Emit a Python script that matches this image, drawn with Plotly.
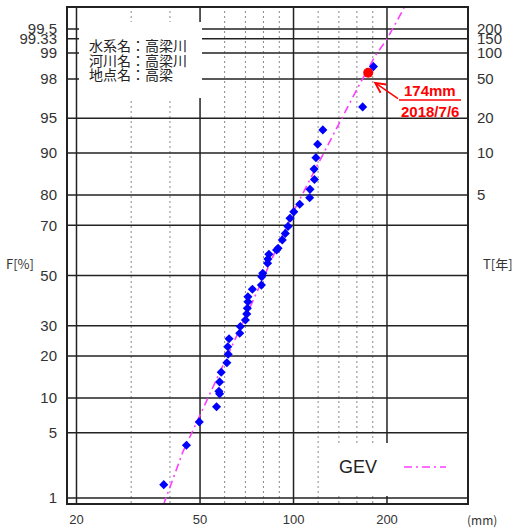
import math
from statistics import NormalDist
import plotly.graph_objects as go

# ---------------- data ----------------
# observed annual maxima (plotting positions) read from the chart
obs_mm = [38.2, 45.2, 49.7, 56.5, 57.8, 57.5, 57.8, 58.5, 61.0, 61.6, 61.4, 62.0,
          67.1, 67.4, 70.0, 70.7, 71.0, 71.3, 71.3, 73.7, 78.8, 79.0, 79.6, 82.5,
          82.7, 83.3, 88.2, 89.2, 92.0, 94.1, 96.0, 97.4, 100.2, 104.7, 112.7,
          113.0, 116.8, 116.5, 118.1, 119.6, 124.3, 167.0, 180.9]
obs_F = [1.44, 3.8, 6.3, 8.5, 10.8, 11.3, 13.3, 15.6, 18.1, 20.5, 22.8, 25.4,
         27.3, 29.7, 32.1, 34.4, 36.6, 39.2, 41.2, 44.3, 46.0, 49.5, 50.9, 55.1,
         56.8, 58.8, 60.5, 61.2, 64.5, 67.0, 69.6, 72.5, 74.7, 77.2, 79.2,
         81.6, 84.2, 86.7, 89.1, 91.5, 93.6, 96.1, 98.55]

# 2018/7/6 event
event_mm = [174.0]
event_F = [98.3]
event_label = ["174mm", "2018/7/6"]

# GEV fitted curve
gev_mm = [38.1, 40.4, 44.0, 48.9, 53.5, 69.3, 79.4, 97.8, 117.6, 139.7, 161.9, 183.1, 199.7, 226.9]
gev_F = [0.82, 1.46, 3.25, 6.35, 10.6, 32.1, 48.1, 72.8, 86.7, 94.3, 97.6, 98.91, 99.32, 99.74]

# axes ticks
F_ticks = [1, 5, 10, 20, 30, 50, 70, 80, 90, 95, 98, 99, 99.333, 99.5]
F_labels = ["1", "5", "10", "20", "30", "50", "70", "80", "90", "95", "98", "99", "99.33", "99.5"]
T_ticks = [5, 10, 20, 50, 100, 150, 200]
T_labels = ["5", "10", "20", "50", "100", "150", "200"]
x_major = [20, 50, 100, 200]
x_major_labels = ["20", "50", "100", "200"]
x_minor = [30, 40, 60, 70, 80, 90, 120, 140, 160, 180]

info_lines = ["水系名：高梁川", "河川名：高梁川", "地点名：高梁"]

# ---------------- figure ----------------
nd = NormalDist()


def zq(p):
    return nd.inv_cdf(p / 100.0)


W, H = 527, 528
ML, MR, MT, MB = 68, 60, 8, 25
PW, PH = W - ML - MR, H - MT - MB


def px(xp):
    return (xp - ML) / PW


def py(yp):
    return (H - MB - yp) / PH


TICKFONT = dict(family="Liberation Sans Narrow, Liberation Sans, Arial, sans-serif", size=15, color="#333")
XTICKFONT = dict(family="Liberation Sans Narrow, Liberation Sans, Arial, sans-serif", size=13, color="#333")
MAGENTA = "#FF3CFF"
DASHDOT = "8px,4px,2px,4px"
y_range = [-2.378, 2.796]

fig = go.Figure()

fig.add_trace(go.Scatter(
    x=gev_mm, y=[zq(f) for f in gev_F], mode="lines",
    line=dict(color=MAGENTA, width=1.6, dash=DASHDOT),
    showlegend=False, hoverinfo="skip"))

fig.add_trace(go.Scatter(
    x=obs_mm, y=[zq(f) for f in obs_F], mode="markers",
    marker=dict(symbol="diamond", size=7, color="#0000FF"),
    showlegend=False))

fig.add_trace(go.Scatter(
    x=event_mm, y=[zq(f) for f in event_F], mode="markers",
    marker=dict(symbol="circle", size=10, color="#FF0000"),
    yaxis="y2", showlegend=False))

fig.update_layout(
    width=W, height=H,
    margin=dict(l=ML, r=MR, t=MT, b=MB, autoexpand=False),
    paper_bgcolor="white", plot_bgcolor="white",
    xaxis=dict(
        type="log", range=[math.log10(18.78), math.log10(362)],
        tickvals=x_major, ticktext=x_major_labels, ticks="",
        tickfont=XTICKFONT, ticklabelstandoff=3, automargin=False,
        showgrid=False,
        showline=True, mirror=True, linecolor="#222", linewidth=2,
        zeroline=False),
    yaxis=dict(
        range=y_range, tickvals=[zq(f) for f in F_ticks], ticktext=F_labels,
        ticks="", tickfont=TICKFONT, ticklabelstandoff=6, automargin=False,
        showgrid=False,
        showline=True, mirror=True, linecolor="#222", linewidth=2,
        zeroline=False),
    yaxis2=dict(
        range=y_range, overlaying="y", side="right",
        tickvals=[zq(100 * (1 - 1 / t)) for t in T_ticks], ticktext=T_labels,
        ticks="", tickfont=TICKFONT, ticklabelstandoff=9, automargin=False,
        showgrid=False, zeroline=False, showline=False),
)

shapes = []
# grid: dotted minor verticals, solid major verticals, solid horizontals
for v in x_minor:
    shapes.append(dict(type="line", xref="x", yref="paper", x0=v, x1=v, y0=0, y1=1,
                       line=dict(color="#888", width=1, dash="2px,3px"), layer="below"))
for v in x_major:
    shapes.append(dict(type="line", xref="x", yref="paper", x0=v, x1=v, y0=0, y1=1,
                       line=dict(color="#222", width=1.5), layer="below"))
for f in F_ticks:
    shapes.append(dict(type="line", xref="paper", yref="y", x0=0, x1=1, y0=zq(f), y1=zq(f),
                       line=dict(color="#222", width=1.5), layer="below"))
# white boxes breaking the grid (info box & legend box)
shapes.append(dict(type="rect", xref="paper", yref="paper",
                   x0=px(79), x1=px(202), y0=py(98), y1=py(22),
                   fillcolor="white", line=dict(width=0), layer="below"))
shapes.append(dict(type="rect", xref="paper", yref="paper",
                   x0=px(330), x1=px(466), y0=py(496), y1=py(443),
                   fillcolor="white", line=dict(width=0), layer="below"))
# legend sample line
shapes.append(dict(type="line", xref="paper", yref="paper",
                   x0=px(404), x1=px(446), y0=py(467), y1=py(467),
                   line=dict(color=MAGENTA, width=1.6, dash=DASHDOT)))
# underline of event label
shapes.append(dict(type="line", xref="paper", yref="paper",
                   x0=px(399), x1=px(461), y0=py(100), y1=py(100),
                   line=dict(color="#FF0000", width=1.5)))
fig.update_layout(shapes=shapes)

ann = []
CJK = "Noto Sans CJK JP, sans-serif"
for i, t in enumerate(info_lines):
    ann.append(dict(xref="paper", yref="paper", x=px(87), y=py(45 + 14.5 * i),
                    text=t, showarrow=False, xanchor="left", yanchor="middle",
                    font=dict(family=CJK, size=14, color="#222")))
ann.append(dict(xref="paper", yref="paper", x=px(358), y=py(467), text="GEV",
                showarrow=False, xanchor="center", yanchor="middle",
                font=dict(family="Liberation Sans, Arial, sans-serif", size=18, color="#222")))
ann.append(dict(xref="paper", yref="paper", x=px(430), y=py(91), text=event_label[0],
                showarrow=False, xanchor="center", yanchor="middle",
                font=dict(family="Liberation Sans, Arial, sans-serif", size=15, color="#FF0000", weight="bold")))
ann.append(dict(xref="paper", yref="paper", x=px(430), y=py(111), text=event_label[1],
                showarrow=False, xanchor="center", yanchor="middle",
                font=dict(family="Liberation Sans, Arial, sans-serif", size=15, color="#FF0000", weight="bold")))
# arrow to the event point
ann.append(dict(x=math.log10(event_mm[0] * 1.04), y=zq(97.86), xref="x", yref="y",
                text="", showarrow=True, arrowhead=5, arrowsize=1.3, arrowwidth=1.5,
                arrowcolor="#FF0000", ax=26, ay=18))
# axis titles
ann.append(dict(xref="paper", yref="paper", x=px(20), y=py(263), text="F[%]",
                showarrow=False, xanchor="center", yanchor="middle",
                font=dict(family=CJK, size=13, color="#333")))
ann.append(dict(xref="paper", yref="paper", x=px(498), y=py(263), text="T[年]",
                showarrow=False, xanchor="center", yanchor="middle",
                font=dict(family=CJK, size=13, color="#333")))
ann.append(dict(xref="paper", yref="paper", x=px(482), y=py(519), text="(mm)",
                showarrow=False, xanchor="center", yanchor="middle",
                font=dict(family=CJK, size=12, color="#333")))
fig.update_layout(annotations=ann)

fig.write_html("out.html", config={"displayModeBar": False},
               post_script="document.body.style.margin='0px';")
